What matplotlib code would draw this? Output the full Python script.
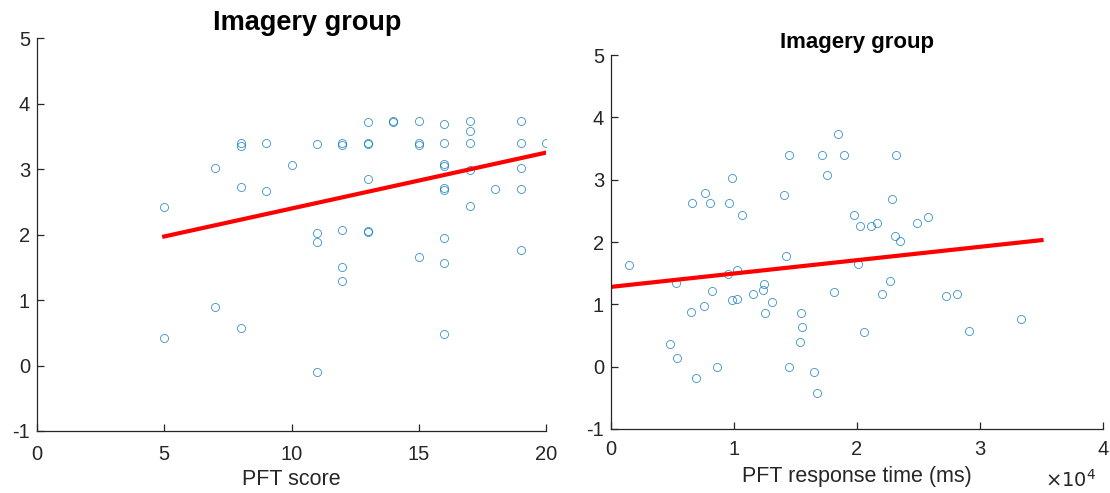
import numpy as np
import matplotlib
matplotlib.use("Agg")
import matplotlib.pyplot as plt

plt.rcParams['font.family'] = ['Liberation Sans', 'DejaVu Sans']

# ---- Left panel data: PFT score vs value ----
score_x = [5, 5, 7, 7, 8, 8, 8, 8, 9, 9, 10, 11, 11, 11, 11,
           12, 12, 12, 12, 12, 13, 13, 13, 13, 13, 13, 14, 14,
           15, 15, 15, 15, 16, 16, 16, 16, 16, 16, 16, 16, 16,
           17, 17, 17, 17, 17, 18, 19, 19, 19, 19, 19, 20]
score_y = [2.42, 0.42, 3.01, 0.90, 3.39, 3.35, 2.73, 0.57, 3.39, 2.67, 3.06,
           3.38, 2.03, 1.89, -0.10,
           3.39, 3.37, 2.07, 1.51, 1.29,
           3.72, 3.39, 3.38, 2.84, 2.05, 2.04,
           3.72, 3.73,
           3.73, 3.39, 3.37, 1.65,
           3.69, 3.39, 3.08, 3.04, 2.71, 2.68, 1.95, 1.56, 0.48,
           3.73, 3.58, 3.39, 2.98, 2.43,
           2.69,
           3.73, 3.39, 3.02, 2.69, 1.77,
           3.40]
score_fit_x = [5, 20]
score_fit_y = [1.97, 3.25]

# ---- Right panel data: PFT response time (ms) vs value ----
rt_x = [1490, 5280, 6560, 7640, 8050, 9570, 9810, 10650, 9540, 10220, 8240,
        12470, 12330, 11520, 14090, 14500, 14200, 17150, 18480, 18920, 17590,
        18130, 9860, 10220, 7590, 6480, 13110, 12520, 15450, 15500, 15370,
        4770, 5370, 6890, 8590, 14470, 16480, 16770,
        23150, 22870, 19780, 20220, 21170, 21650, 24850, 25770, 23120, 23520,
        20050, 22660, 22010, 27240, 28100, 33360, 20600, 29080]
rt_y = [1.63, 1.34, 2.62, 2.78, 2.62, 2.62, 3.02, 2.43, 1.48, 1.55, 1.22,
        1.32, 1.23, 1.17, 2.76, 3.39, 1.78, 3.39, 3.73, 3.39, 3.08,
        1.19, 1.07, 1.08, 0.97, 0.88, 1.04, 0.86, 0.86, 0.64, 0.39,
        0.37, 0.14, -0.18, 0.00, 0.00, -0.08, -0.43,
        3.39, 2.69, 2.43, 2.25, 2.25, 2.30, 2.31, 2.40, 2.09, 2.01,
        1.65, 1.38, 1.17, 1.14, 1.17, 0.77, 0.56, 0.57]
rt_fit_x = [0, 35000]
rt_fit_y = [1.28, 2.03]

title_text = "Imagery group"
left_xticks = [0, 5, 10, 15, 20]
right_xticks = [0, 10000, 20000, 30000, 40000]
right_xticklabels = ["0", "1", "2", "3", "4"]
yticks = [-1, 0, 1, 2, 3, 4, 5]
ytick_labels = ["-1", "0", "1", "2", "3", "4", "5"]

W, H = 1110, 493
fig = plt.figure(figsize=(W / 100, H / 100), dpi=100)

axcol = '#262626'
blue = '#0072BD'

def style(ax, xpad):
    for s in ['top', 'right']:
        ax.spines[s].set_visible(False)
    for s in ['left', 'bottom']:
        ax.spines[s].set_color(axcol)
        ax.spines[s].set_linewidth(0.9)
    ax.tick_params(direction='in', length=5, width=0.9, colors=axcol,
                   labelsize=14.5, labelcolor=axcol, pad=5)
    ax.tick_params(axis='x', pad=xpad)
    ax.set_yticks(yticks)
    ax.set_yticklabels(ytick_labels)
    ax.set_ylim(-1, 5)

ax1 = fig.add_axes([37 / W, 1 - 431 / H, (546 - 37) / W, (431 - 38) / H])
ax1.plot(score_x, score_y, 'o', mfc='none', mec=blue, mew=0.55, ms=5.8, alpha=0.85)
ax1.plot(score_fit_x, score_fit_y, color='red', lw=3)
ax1.set_xlim(0, 20)
ax1.set_xticks(left_xticks)
style(ax1, 10)
ax1.set_xlabel("PFT score", fontsize=15.5, color=axcol, labelpad=4)
ax1.set_title(title_text, fontsize=19.5, fontweight='bold', x=0.53, pad=6)

ax2 = fig.add_axes([611 / W, 1 - 429 / H, (1103 - 611) / W, (429 - 55) / H])
ax2.plot(rt_x, rt_y, 'o', mfc='none', mec=blue, mew=0.55, ms=5.8, alpha=0.85)
ax2.plot(rt_fit_x, rt_fit_y, color='red', lw=3)
ax2.set_xlim(0, 40000)
ax2.set_xticks(right_xticks)
ax2.set_xticklabels(right_xticklabels)
style(ax2, 8)
ax2.set_xlabel("PFT response time (ms)", fontsize=15.5, color=axcol, labelpad=5)
ax2.set_title(title_text, fontsize=16, fontweight='bold', pad=5)
fig.text(1096 / W, 1 - 480 / H, r"$\times10^{4}$", ha='right', va='center',
         fontsize=14, color=axcol)

fig.savefig("out.png", dpi=100, facecolor='white')
